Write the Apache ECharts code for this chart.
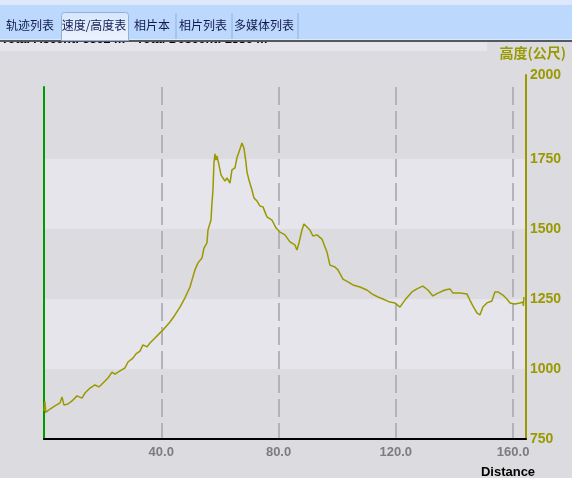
<!DOCTYPE html>
<html>
<head>
<meta charset="utf-8">
<script src="https://cdn.jsdelivr.net/npm/echarts@6/dist/echarts.min.js"></script>
<style>
  html, body { margin: 0; padding: 0; background: #dcdbe0; }
  #chart { width: 572px; height: 478px; }
</style>
</head>
<body>
<div id="chart"></div>
<script>
// 距离 (km) / 高度 (m)
const distanceKm = [
  0, 0.3, 0.6, 2.05, 2.73, 3.75, 5.46, 6.14, 6.82, 8.18, 9.55, 11.25, 12.96, 13.98,
  15.69, 17.39, 18.76, 20.12, 21.82, 23.19, 24.21, 25.92, 27.62, 28.64, 30.35, 31.37,
  32.74, 33.76, 35.12, 36.15, 37.85, 39.56, 40.58, 42.97, 44.67, 46.38, 48.08, 49.79,
  51.49, 52.52, 53.88, 54.56, 55.58, 55.92, 56.95, 57.29, 57.63, 57.97, 58.31, 58.65,
  58.99, 59.68, 60.36, 61.04, 61.72, 62.4, 63.43, 64.11, 65.13, 65.81, 66.5, 67.52,
  68.2, 68.88, 69.22, 69.91, 70.93, 71.61, 72.63, 73.66, 74.68, 75.36, 76.04, 77.75,
  79.11, 80.48, 82.18, 83.89, 85.59, 86.27, 86.96, 87.98, 88.66, 89.68, 90.71, 91.73,
  93.09, 94.8, 96.5, 97.53, 99.23, 100.26, 101.96, 103.67, 105.37, 107.76, 110.14,
  111.85, 113.9, 115.6, 117.99, 119.69, 121.4, 123.1, 125.49, 127.19, 129.24, 130.95,
  132.65, 134.36, 136.74, 138.45, 139.47, 141.86, 144.25, 145.27, 146.29, 147.66,
  148.68, 149.7, 151.07, 152.77, 153.79, 154.82, 156.52, 157.89, 158.91, 160.61,
  162.32, 163.34, 163.5, 163.7
];
const elevationM = [
  850, 885, 845, 857, 850, 868, 879, 900, 871, 875, 886, 904, 896, 914,
  932, 943, 936, 950, 968, 989, 982, 993, 1004, 1025, 1039, 1054,
  1064, 1086, 1079, 1093, 1111, 1129, 1139, 1168, 1193, 1221, 1254, 1293,
  1354, 1379, 1396, 1432, 1450, 1496, 1532, 1593, 1639, 1736, 1768, 1746,
  1761, 1729, 1693, 1696, 1671, 1682, 1664, 1711, 1718, 1754, 1775, 1807,
  1789, 1739, 1704, 1675, 1639, 1611, 1600, 1582, 1579, 1561, 1543, 1532,
  1504, 1489, 1479, 1454, 1443, 1425, 1450, 1496, 1518, 1507, 1496, 1475,
  1479, 1464, 1418, 1371, 1364, 1354, 1321, 1311, 1300, 1293, 1282,
  1268, 1257, 1250, 1239, 1236, 1221, 1246, 1275, 1286, 1296, 1282,
  1261, 1271, 1282, 1286, 1271, 1271, 1268, 1246, 1225, 1200,
  1193, 1221, 1236, 1243, 1275, 1275, 1264, 1250, 1236, 1232,
  1236, 1239, 1225, 1257
];
const tabNames = ['轨迹列表', '速度/高度表', '相片本', '相片列表', '多媒体列表'];
const tabCenters = [30, 94, 152, 203, 264];
const summaryText = 'Total Ascent: 3362 m - Total Descent: 2886 m';

const OLIVE = '#999900';
const BAND_DARK = '#dcdbe0';
const BAND_LIGHT = '#e6e5eb';

const chart = echarts.init(document.getElementById('chart'));

const tabGraphics = [];
tabNames.forEach((name, i) => {
  tabGraphics.push({
    type: 'text',
    z: 20,
    style: {
      text: name,
      x: tabCenters[i],
      y: 25,
      fill: '#101a50',
      font: '12px "Noto Sans CJK SC"',
      align: 'center',
      verticalAlign: 'middle'
    }
  });
});

chart.setOption({
  animation: false,
  backgroundColor: BAND_DARK,
  grid: [
    { left: 44, right: 46, top: 87, bottom: 39 },
    { left: 44, right: 46, top: 75, bottom: 39 }
  ],
  xAxis: [
    {
      gridIndex: 0,
      type: 'value',
      min: 0,
      max: 164.4,
      interval: 40,
      z: 1,
      axisLine: { show: true, onZero: false, lineStyle: { color: '#000', width: 2 } },
      axisTick: { show: false },
      axisLabel: {
        margin: 7,
        color: '#7c7c7c',
        fontSize: 13,
        fontWeight: 'bold',
        fontFamily: 'Liberation Sans',
        formatter: v => (v > 0 && v % 40 === 0 ? v.toFixed(1) : '')
      },
      splitLine: {
        show: true,
        showMinLine: false,
        showMaxLine: false,
        lineStyle: { color: '#b4b4b8', width: 2, type: [18, 6] }
      }
    },
    {
      gridIndex: 1,
      type: 'value',
      min: 0,
      max: 164.4,
      show: false
    }
  ],
  yAxis: [
    {
      gridIndex: 0,
      type: 'value',
      position: 'left',
      min: 750,
      max: 2007,
      z: 1,
      axisLine: { show: true, onZero: false, lineStyle: { color: '#009900', width: 2 } },
      axisTick: { show: false },
      axisLabel: { show: false },
      splitLine: { show: false }
    },
    {
      gridIndex: 1,
      type: 'value',
      position: 'right',
      min: 750,
      max: 2050,
      interval: 250,
      z: 0,
      axisLine: { show: true, onZero: false, lineStyle: { color: OLIVE, width: 2 } },
      axisTick: { show: false },
      axisLabel: {
        margin: 4,
        color: OLIVE,
        fontSize: 14,
        fontWeight: 'bold',
        fontFamily: 'Liberation Sans',
        formatter: v => (v === 2000 ? '{up|2000}' : v > 2000 ? '' : String(v)),
        rich: {
          up: {
            color: OLIVE,
            fontSize: 14,
            fontWeight: 'bold',
            fontFamily: 'Liberation Sans',
            padding: [0, 0, 27, 0]
          }
        }
      },
      splitLine: { show: false },
      splitArea: {
        show: true,
        areaStyle: { color: [BAND_DARK, BAND_LIGHT, BAND_DARK, BAND_LIGHT, BAND_DARK, BAND_DARK] }
      }
    }
  ],
  graphic: [
    { type: 'rect', z: 10, shape: { x: 0, y: 42, width: 487, height: 9 }, style: { fill: BAND_LIGHT } },
    {
      type: 'text',
      z: 11,
      style: {
        text: summaryText,
        x: 1,
        y: 46,
        fill: '#000',
        font: 'bold 12.5px "Liberation Sans"',
        align: 'left',
        verticalAlign: 'bottom'
      }
    },
    { type: 'rect', z: 15, shape: { x: 0, y: 0, width: 572, height: 41 }, style: { fill: '#bcd8fc' } },
    { type: 'rect', z: 15, shape: { x: 0, y: 0, width: 572, height: 5 }, style: { fill: '#dde9fb' } },
    { type: 'rect', z: 15, shape: { x: 0, y: 39, width: 572, height: 1 }, style: { fill: '#dce9fb' } },
    { type: 'rect', z: 15, shape: { x: 0, y: 40, width: 572, height: 2 }, style: { fill: '#55585e' } },
    {
      type: 'rect',
      z: 16,
      shape: { x: 61.5, y: 12.5, width: 67, height: 28, r: [3, 3, 0, 0] },
      style: {
        fill: new echarts.graphic.LinearGradient(0, 0, 0, 1, [
          { offset: 0, color: '#d6e6fc' },
          { offset: 1, color: '#eef4fd' }
        ]),
        stroke: '#8fb0e0',
        lineWidth: 1
      }
    },
    { type: 'rect', z: 16, shape: { x: 175.5, y: 13, width: 1, height: 26 }, style: { fill: '#8fb0e0' } },
    { type: 'rect', z: 16, shape: { x: 231.5, y: 13, width: 1, height: 26 }, style: { fill: '#8fb0e0' } },
    { type: 'rect', z: 16, shape: { x: 297.5, y: 13, width: 1, height: 26 }, style: { fill: '#8fb0e0' } },
    {
      type: 'text',
      z: 11,
      style: {
        text: '高度(公尺)',
        x: 566,
        y: 53,
        fill: OLIVE,
        font: 'bold 14px "Noto Sans CJK SC"',
        align: 'right',
        verticalAlign: 'middle'
      }
    },
    {
      type: 'text',
      z: 11,
      style: {
        text: 'Distance',
        x: 508,
        y: 472,
        fill: '#000',
        font: 'bold 13px "Liberation Sans"',
        align: 'center',
        verticalAlign: 'middle'
      }
    }
  ].concat(tabGraphics),
  series: [
    {
      name: '高度',
      type: 'line',
      xAxisIndex: 0,
      yAxisIndex: 0,
      showSymbol: false,
      symbol: 'none',
      z: 5,
      lineStyle: { color: OLIVE, width: 1.5 },
      data: distanceKm.map((d, i) => [d, elevationM[i]])
    }
  ]
});
</script>
</body>
</html>
